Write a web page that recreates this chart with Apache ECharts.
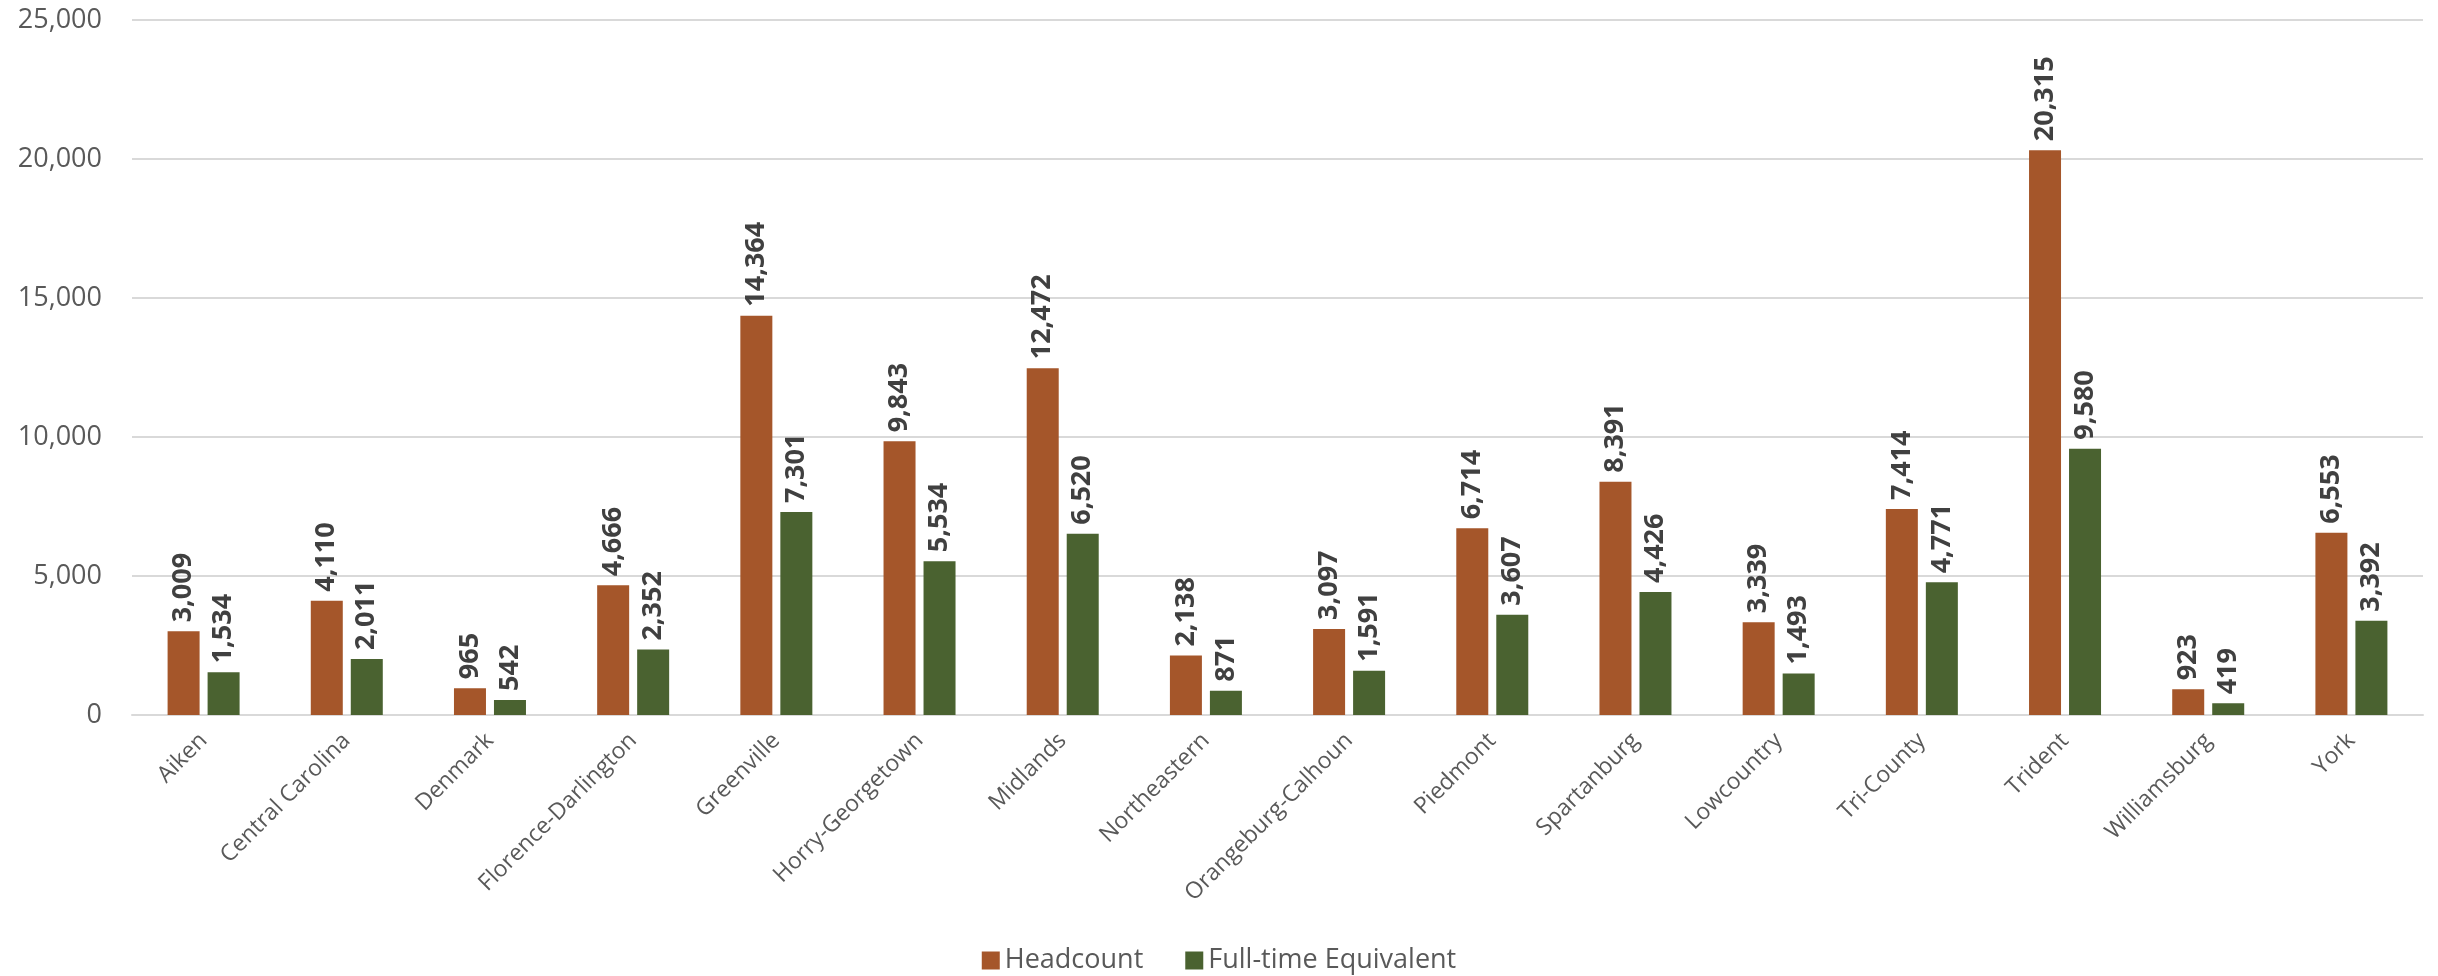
<!DOCTYPE html>
<html>
<head>
<meta charset="utf-8">
<script src="https://cdn.jsdelivr.net/npm/echarts@6/dist/echarts.min.js"></script>
<style>
html,body{margin:0;padding:0;background:#fff;}
#chart{width:2438px;height:976px;}
</style>
</head>
<body>
<div id="chart"></div>
<script>
const categories = ["Aiken","Central Carolina","Denmark","Florence-Darlington","Greenville","Horry-Georgetown","Midlands","Northeastern","Orangeburg-Calhoun","Piedmont","Spartanburg","Lowcountry","Tri-County","Trident","Williamsburg","York"];
const headcount = [3009,4110,965,4666,14364,9843,12472,2138,3097,6714,8391,3339,7414,20315,923,6553];
const fte = [1534,2011,542,2352,7301,5534,6520,871,1591,3607,4426,1493,4771,9580,419,3392];
const seriesNames = ["Headcount","Full-time Equivalent"];
const yTicks = {min:0, max:25000, interval:5000};

const FONT = "'Open Sans', 'Noto Sans', sans-serif";
const fmt = v => v.toLocaleString('en-US');

const chart = echarts.init(document.getElementById('chart'), null, {renderer:'canvas'});
const labelCfg = {
  show:true, position:'top', rotate:90, align:'left', verticalAlign:'middle',
  distance:9, color:'#404040', fontFamily:FONT, fontSize:27, fontWeight:'bold',
  formatter: p => fmt(p.value)
};
chart.setOption({
  animation:false,
  backgroundColor:'#ffffff',
  textStyle:{fontFamily:FONT},
  grid:{left:132, right:15, top:20, bottom:261, containLabel:false},
  legend:{
    bottom:-3, left:'center', itemWidth:18, itemHeight:18, itemGap:42,
    icon:'rect',
    textStyle:{color:'#595959', fontSize:27, fontFamily:FONT},
    data:seriesNames
  },
  xAxis:{
    type:'category', data:categories,
    axisLine:{lineStyle:{color:'#D9D9D9', width:2}},
    axisTick:{show:false},
    axisLabel:{interval:0, rotate:45, margin:22, color:'#595959', fontSize:23, fontFamily:FONT}
  },
  yAxis:{
    type:'value', min:yTicks.min, max:yTicks.max, interval:yTicks.interval,
    axisLine:{show:false}, axisTick:{show:false},
    axisLabel:{color:'#595959', fontSize:27, fontFamily:FONT, margin:30, formatter: v => fmt(v)},
    splitLine:{lineStyle:{color:'#D9D9D9', width:2}}
  },
  series:[
    {name:seriesNames[0], type:'bar', data:headcount, barWidth:32, barGap:'25%',
     itemStyle:{color:'#A5562A'}, label:labelCfg},
    {name:seriesNames[1], type:'bar', data:fte, barWidth:32, barGap:'25%',
     itemStyle:{color:'#4A6230'}, label:labelCfg}
  ]
});
</script>
</body>
</html>
